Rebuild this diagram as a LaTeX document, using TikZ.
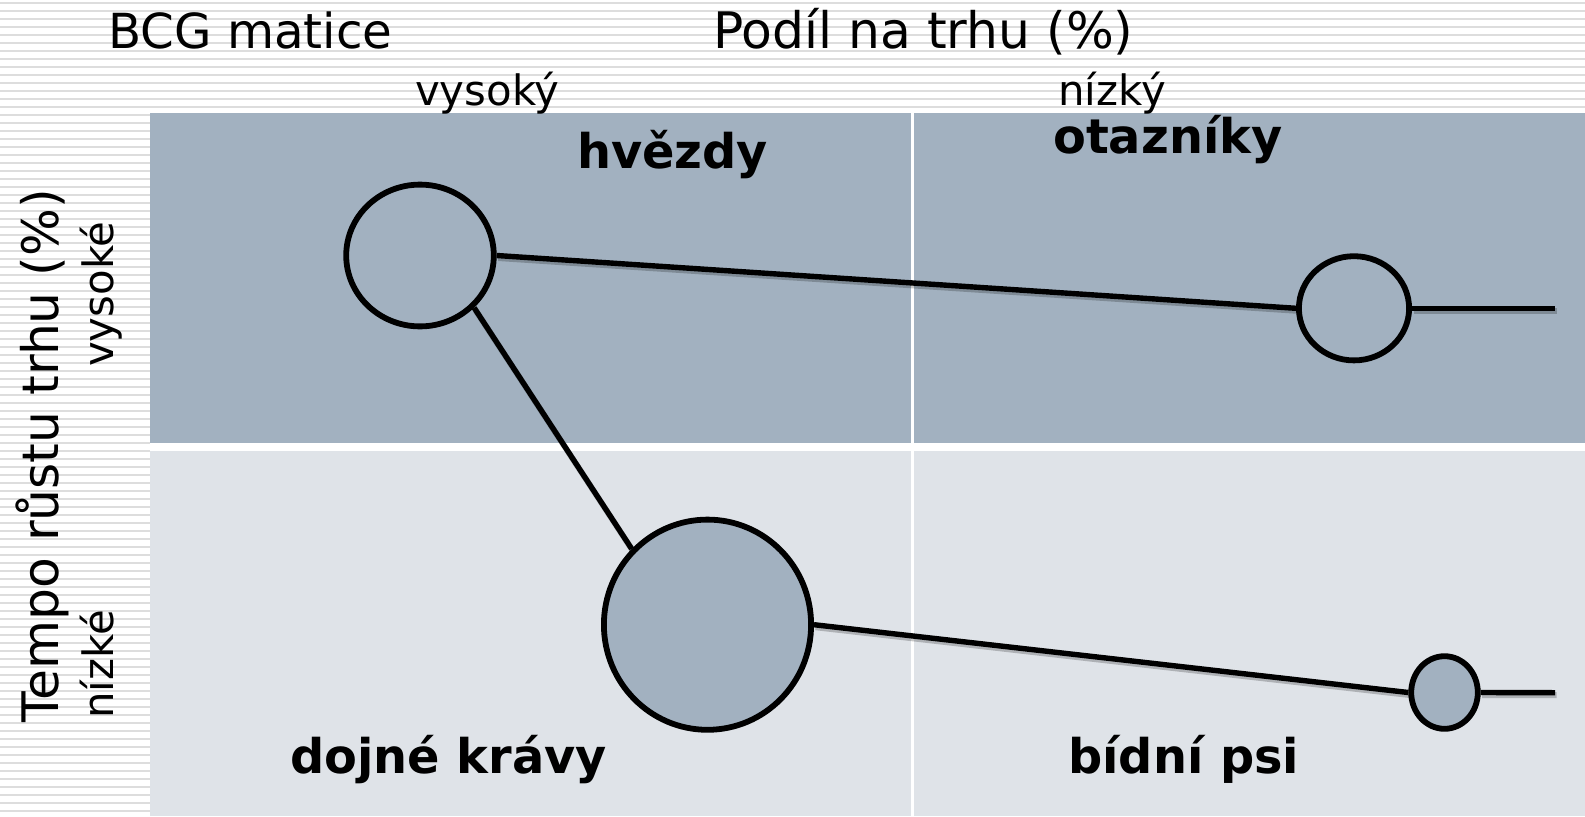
\documentclass[tikz,border=0pt]{standalone}
\usepackage{fontspec}
\setmainfont{DejaVu Sans}
\usetikzlibrary{shapes.geometric}
\definecolor{qdark}{RGB}{162,177,192}
\definecolor{qlight}{RGB}{223,227,232}
\definecolor{stripe}{RGB}{221,221,221}
\tikzset{
  stripeline/.style={draw=stripe,line width=2.2bp},
  bubble/.style={ellipse,draw=black,line width=5.8bp,fill=qdark,inner sep=0pt},
  link/.style={draw=black,line width=5.4bp,
    preaction={draw=black,opacity=0.22,line width=6bp,transform canvas={shift={(1.5bp,-2.5bp)}}}},
  title/.style={font=\fontsize{48.5}{58}\selectfont,inner sep=0pt,anchor=base west},
  axis/.style={font=\fontsize{42}{50}\selectfont,inner sep=0pt,anchor=base west},
  quadlabel/.style={font=\fontsize{48}{58}\selectfont\bfseries,inner sep=0pt,anchor=base west},
}
\begin{document}
\begin{tikzpicture}[x=1bp,y=-1bp]
\useasboundingbox (0,0) rectangle (1585,816);
\fill[white] (0,0) rectangle (1585,816);
% striped background
\foreach \k in {0,...,101}{
  \draw[stripeline] (0,2.7+8*\k) -- (1585,2.7+8*\k);
}
\fill[white] (150,112.7) rectangle (1585,816);
% quadrants
\fill[qdark]  (150,112.7) rectangle (911,442.7);
\fill[qdark]  (914,112.7) rectangle (1585,442.7);
\fill[qlight] (150,450.7) rectangle (911,816);
\fill[qlight] (914,450.7) rectangle (1585,816);
% titles
\node[title] (tbcg) at (108,48.5) {BCG matice};
\node[title,font=\fontsize{50.5}{60}\selectfont] (tpodil) at (713,48.5) {Podíl na trhu (\%)};
\node[axis] (tvysoky) at (415,105) {vysoký};
\node[axis] (tnizky) at (1058,105) {nízký};
\node[title,font=\fontsize{50.5}{60}\selectfont,rotate=90] (ttempo) at (58.8,723) {Tempo růstu trhu (\%)};
\node[axis,rotate=90] (tvysoke) at (113,367) {vysoké};
\node[axis,rotate=90] (tnizke) at (113,719) {nízké};
% quadrant labels
\node[quadlabel] (lhv) at (577,168.3) {hvězdy};
\node[quadlabel] (lot) at (1053,153.3) {otazníky};
\node[quadlabel] (ldo) at (290,773.3) {dojné krávy};
\node[quadlabel] (lbi) at (1068,773.3) {bídní psi};
% bubbles
\node[bubble,minimum width=147.6bp,minimum height=141.8bp] (c1) at (420,255.5) {};
\node[bubble,minimum width=110.2bp,minimum height=104.2bp] (c2) at (1354,308.3) {};
\node[bubble,minimum width=207.2bp,minimum height=210.2bp] (c3) at (707.5,624.7) {};
\node[bubble,minimum width=66.6bp,minimum height=72.6bp] (c4) at (1444.5,692.5) {};
\coordinate (e2) at (1555,308.3);
\coordinate (e4) at (1555,692.7);
% connectors
\draw[link] (c1.east) -- (c2.west);
\draw[link] (c2.east) -- (e2);
\draw[link] (c1.-44) -- (c3.135);
\draw[link] (c3.east) -- (c4.west);
\draw[link] (c4.east) -- (e4);
\end{tikzpicture}
\end{document}
